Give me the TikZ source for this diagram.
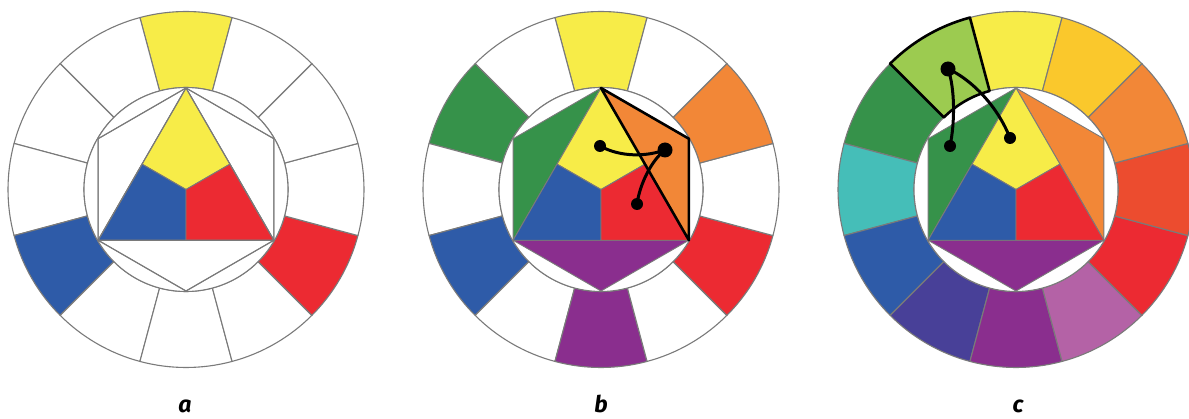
\documentclass[tikz,border=0pt]{standalone}
\usepackage{fontspec}
\newfontfamily\labfont{Fira Sans}
\usetikzlibrary{calc}
\definecolor{cY}{HTML}{F7EC48}
\definecolor{cYG}{HTML}{9CCB50}
\definecolor{cG}{HTML}{36924A}
\definecolor{cBG}{HTML}{45BEB8}
\definecolor{cB}{HTML}{2E5BA8}
\definecolor{cBV}{HTML}{484098}
\definecolor{cV}{HTML}{8A2E8E}
\definecolor{cRV}{HTML}{B462A6}
\definecolor{cR}{HTML}{EC2A32}
\definecolor{cRO}{HTML}{EC4C2F}
\definecolor{cO}{HTML}{F28737}
\definecolor{cYO}{HTML}{FAC82C}
\definecolor{lineg}{HTML}{7A7A7A}
\tikzset{
  segline/.style={draw=lineg, line width=1.1pt, line join=round},
  hexline/.style={draw=lineg, line width=0.9pt, line join=round},
  blackline/.style={draw=black, line width=2.6pt, line join=round, line cap=round},
  curveline/.style={draw=black, line width=3pt, line cap=round},
  bigdot/.style={circle, fill=black, minimum size=15pt, inner sep=0pt},
  smalldot/.style={circle, fill=black, minimum size=12pt, inner sep=0pt},
  lab/.style={font=\labfont\bfseries\itshape\fontsize{23}{26}\selectfont, anchor=base, inner sep=0pt}
}
% #1 = centre x, #2 = twelve colours counter-clockwise from the top
\newcommand\wheelsegs[2]{%
  \foreach \col [count=\i from 0] in {#2} {
    \pgfmathsetmacro\aa{75+30*\i}
    \pgfmathsetmacro\bb{105+30*\i}
    \path[segline, fill=\col] (#1,228.5) ++(\aa:178) arc[start angle=\aa, end angle=\bb, radius=178]
      -- ($(#1,228.5)+(\bb:102)$) arc[start angle=\bb, end angle=\aa, radius=102] -- cycle;
  }
  \path[segline, fill=white] (#1,228.5) circle[radius=102];
}
% #1 = centre x, #2 #3 #4 = colours of left, right, bottom triangles
\newcommand\wheelhex[4]{%
  \coordinate (C) at (#1,228.5);
  \coordinate (T) at ($(C)+(90:101.5)$);
  \coordinate (L) at ($(C)+(210:101.5)$);
  \coordinate (R) at ($(C)+(330:101.5)$);
  \coordinate (HL) at ($(C)+(150:101.5)$);
  \coordinate (HR) at ($(C)+(30:101.5)$);
  \coordinate (HB) at ($(C)+(270:101.5)$);
  \coordinate (MTL) at ($(T)!0.5!(L)$);
  \coordinate (MTR) at ($(T)!0.5!(R)$);
  \coordinate (MLR) at ($(L)!0.5!(R)$);
  \path[hexline, fill=#2] (T) -- (HL) -- (L) -- cycle;
  \path[hexline, fill=#3] (T) -- (HR) -- (R) -- cycle;
  \path[hexline, fill=#4] (L) -- (HB) -- (R) -- cycle;
  \path[hexline, fill=cY] (T) -- (MTL) -- (C) -- (MTR) -- cycle;
  \path[hexline, fill=cB] (L) -- (MLR) -- (C) -- (MTL) -- cycle;
  \path[hexline, fill=cR] (R) -- (MTR) -- (C) -- (MLR) -- cycle;
}
\begin{document}
\begin{tikzpicture}[x=1pt, y=1pt]
\useasboundingbox (0,0) rectangle (1189,418);
\clip (0,0) rectangle (1189,418);
\fill[white] (0,0) rectangle (1189,418);

% ---------- wheel a ----------
\wheelsegs{186}{cY,white,white,white,cB,white,white,white,cR,white,white,white}
\wheelhex{186}{white}{white}{white}
\path[segline] (T) -- (L) -- (R) -- cycle;
\path[segline] (T) -- (HL) -- (L) -- (HB) -- (R) -- (HR) -- cycle;
\node[lab] (la) at (185,5.5) {a};

% ---------- wheel b ----------
\wheelsegs{601}{cY,white,cG,white,cB,white,cV,white,cR,white,cO,white}
\wheelhex{601}{cG}{cO}{cV}
\path[blackline] (T) -- (HR) -- (R) -- cycle;
\node[smalldot] (b1) at (600,272) {};
\node[bigdot] (b2) at (665,268) {};
\node[smalldot] (b3) at (637,214) {};
\draw[curveline] (b1.center) .. controls (620,261) and (645,261) .. (b2.center);
\draw[curveline] (b2.center) .. controls (652,258) and (640,235) .. (b3.center);
\node[lab] (lb) at (601,5.5) {b};

% ---------- wheel c ----------
\wheelsegs{1016}{cY,cYG,cG,cBG,cB,cBV,cV,cRV,cR,cRO,cO,cYO}
\path[draw=black, line width=2.6pt, line join=round]
  (1016,228.5) ++(105:178) arc[start angle=105, end angle=135, radius=178]
  -- ($(1016,228.5)+(135:102)$) arc[start angle=135, end angle=105, radius=102] -- cycle;
\wheelhex{1016}{cG}{cO}{cV}
\node[bigdot] (c1) at (948,349) {};
\node[smalldot] (c2) at (950,272) {};
\node[smalldot] (c3) at (1010,280) {};
\draw[curveline] (c1.center) .. controls (955,330) and (955,295) .. (c2.center);
\draw[curveline] (c1.center) .. controls (965,342) and (995,318) .. (c3.center);
\node[lab] (lc) at (1018,5.5) {c};
\end{tikzpicture}
\end{document}
